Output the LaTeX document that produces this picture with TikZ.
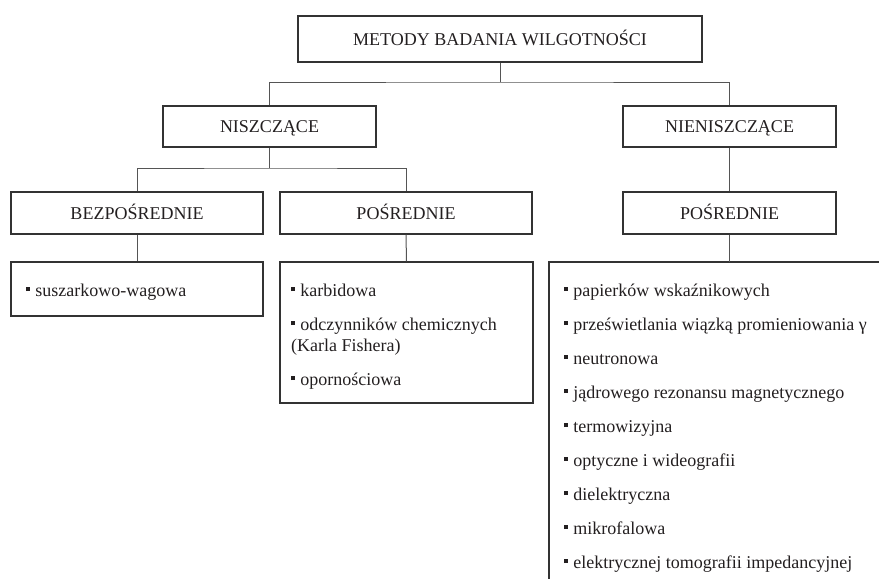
\documentclass[tikz,border=0pt]{standalone}
\usepackage{fontspec}
\setmainfont{Liberation Serif}
\definecolor{boxcol}{HTML}{333333}
\definecolor{linecol}{HTML}{555555}
\definecolor{txtcol}{HTML}{231F20}
% small square bullet used in the method lists
\newcommand{\sqbul}{\rule[0.27em]{0.23em}{0.23em}\hspace{0.28em}}
\begin{document}
\begin{tikzpicture}[x=1pt,y=-1pt,
  box/.style={draw=boxcol,line width=1.2pt,rectangle,inner sep=0pt,
    text height=12pt,text depth=0pt,font=\fontsize{18}{21}\selectfont,text=txtcol},
  listbox/.style={draw=boxcol,line width=1.2pt,rectangle,inner sep=0pt},
  conn/.style={draw=linecol,line width=1pt},
  item/.style={anchor=base west,inner sep=0pt,font=\fontsize{18}{21}\selectfont,text=txtcol}]
\useasboundingbox (0,0) rectangle (879,579);

% level 1
\node[box,minimum width=404,minimum height=46] (top) at (500,39) {METODY BADANIA WILGOTNOŚCI};
% level 2
\node[box,minimum width=213,minimum height=41] (nisz) at (269.5,126.5) {NISZCZĄCE};
\node[box,minimum width=213,minimum height=41] (nien) at (729.5,126.5) {NIENISZCZĄCE};
% level 3
\node[box,minimum width=252,minimum height=42] (bez)  at (137,213)   {BEZPOŚREDNIE};
\node[box,minimum width=252,minimum height=42] (posa) at (406,213)   {POŚREDNIE};
\node[box,minimum width=213,minimum height=42] (posb) at (729.5,213) {POŚREDNIE};

% list boxes
\node[listbox,minimum width=252,minimum height=54]  (bezl) at (137,289)   {};
\node[listbox,minimum width=253,minimum height=141] (posl) at (406.5,332.5) {};
\coordinate (rtr) at (879,262);
\coordinate (rtl) at (549,262);
\coordinate (rbl) at (549,579);
\coordinate (rtop) at (729.5,262);
\draw[draw=boxcol,line width=1.2pt] (rtr) -- (rtl) -- (rbl);

% connectors
\coordinate (j1) at (500,82);
\coordinate (j2) at (269.5,168);
\draw[conn] (top.south) -- (j1);
\draw[conn] (nisz.north) |- (j1) -| (nien.north);
\draw[conn] (nisz.south) -- (j2);
\draw[conn] (bez.north) |- (j2) -| (posa.north);
\draw[conn] (nien.south) -- (posb.north);
\draw[conn] (bez.south) -- (bezl.north);
\draw[conn] (posa.south) -- (posl.north);
\draw[conn] (posb.south) -- (rtop);

% direct methods
\node[item] (b1) at (26,296) {\sqbul suszarkowo-wagowa};
% indirect destructive methods
\node[item] (p1)  at (291,296) {\sqbul karbidowa};
\node[item] (p2)  at (291,330) {\sqbul odczynników chemicznych};
\node[item] (p2b) at (291,351) {(Karla Fishera)};
\node[item] (p3)  at (291,385) {\sqbul opornościowa};
% indirect non-destructive methods
\node[item] (n1) at (564,296) {\sqbul papierków wskaźnikowych};
\node[item] (n2) at (564,330) {\sqbul prześwietlania wiązką promieniowania γ};
\node[item] (n3) at (564,364) {\sqbul neutronowa};
\node[item] (n4) at (564,398) {\sqbul jądrowego rezonansu magnetycznego};
\node[item] (n5) at (564,432) {\sqbul termowizyjna};
\node[item] (n6) at (564,466) {\sqbul optyczne i wideografii};
\node[item] (n7) at (564,500) {\sqbul dielektryczna};
\node[item] (n8) at (564,534) {\sqbul mikrofalowa};
\node[item] (n9) at (564,568) {\sqbul elektrycznej tomografii impedancyjnej};
\end{tikzpicture}
\end{document}
